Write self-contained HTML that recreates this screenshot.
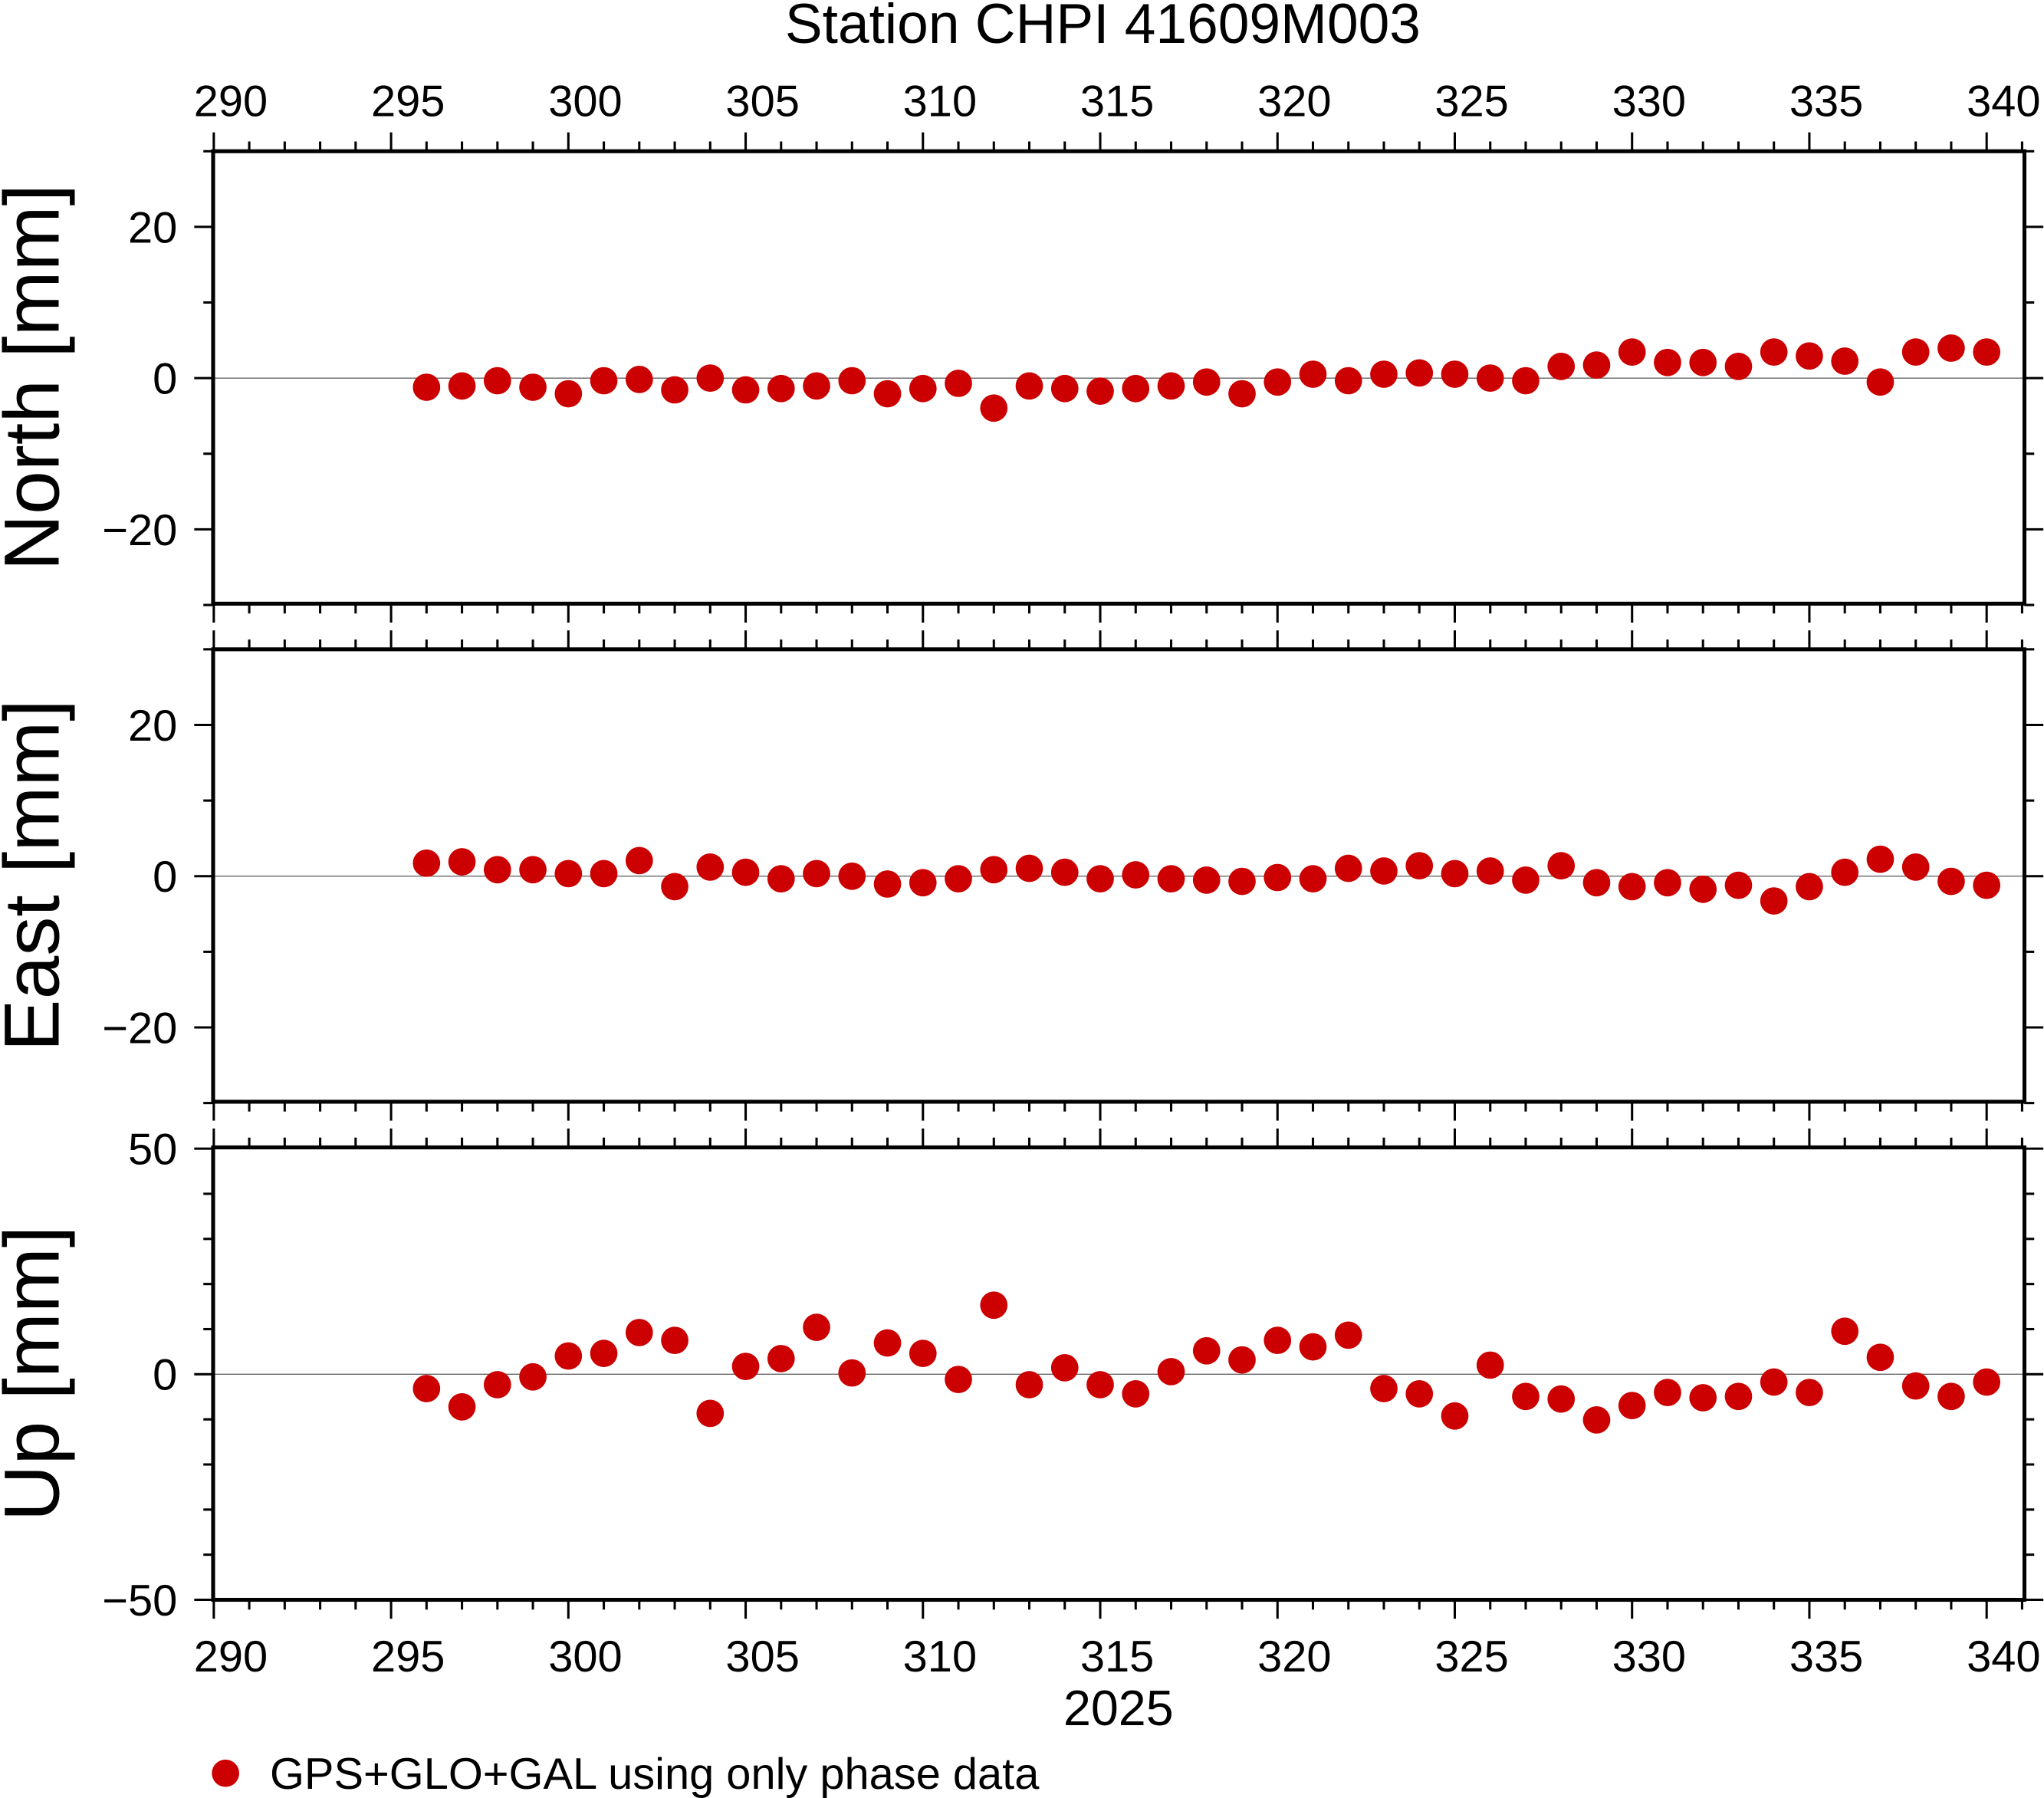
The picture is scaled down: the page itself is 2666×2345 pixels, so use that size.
<!DOCTYPE html>
<html><head><meta charset="utf-8"><style>html,body{margin:0;padding:0;background:#fff}svg{display:block}</style></head>
<body>
<svg id="s" width="2666" height="2345" viewBox="0 0 1568 1379" preserveAspectRatio="none" xmlns="http://www.w3.org/2000/svg" font-family="Liberation Sans, sans-serif">
<text x="846" y="33" font-size="43" text-anchor="middle">Station CHPI 41609M003</text>
<text x="858" y="1323" font-size="38" text-anchor="middle">2025</text>
<circle cx="173" cy="1360" r="10.5" fill="#cc0000"/>
<text x="207" y="1372" font-size="34">GPS+GLO+GAL using only phase data</text>
<g id="g"></g>
</svg>
<script>
var g=document.getElementById('g'),h='';
var X0=164,DX=27.2,L=163.5,R=1553;
function X(d){return X0+(d-290)*DX;}
var N=[297,296,292,297,302,292,291,299,290,299,298,296,292,302,298,294,313,296,298,300,298,296,293,302,293,287,292,287,286,287,290,292,281,280,270,278,278,281,270,273,277,293,270,267,270];
var E=[662,661,667,667,670,670,660,680,665,669,674,670,672,678,677,674,667,666,669,674,671,674,675,676,673,674,666,668,664,670,668,675,664,677,680,677,682,679,691,680,669,659,665,676,679];
var U=[1065,1079,1062,1056,1040,1038,1022,1028,1084,1048,1042,1018,1053,1030,1038,1058,1001,1062,1049,1062,1069,1052,1036,1043,1028,1033,1024,1065,1069,1086,1047,1071,1073,1089,1078,1068,1072,1071,1060,1068,1021,1041,1063,1071,1060];
var P=[{t:116,b:463,z:290,s:5.8,lab:[20,0,-20],min:[30,10,-10,-30],name:'North [mm]',d:N},
{t:498,b:845,z:672,s:5.8,lab:[20,0,-20],min:[30,10,-10,-30],name:'East [mm]',d:E},
{t:880,b:1227,z:1054,s:3.46,lab:[50,0,-50],min:[40,30,20,10,-10,-20,-30,-40],name:'Up [mm]',d:U}];
P.forEach(function(p,i){
 h+='<line x1="'+L+'" x2="'+R+'" y1="'+p.z+'" y2="'+p.z+'" stroke="#666" stroke-width="0.8"/>';
 p.d.forEach(function(y,k){h+='<circle cx="'+X(296+k)+'" cy="'+y+'" r="10.5" fill="#cc0000"/>';});
 for(var d=290;d<=341;d++){var len=(d%5==0)?14.5:7.5;var x=X(d);
  h+='<line x1="'+x+'" x2="'+x+'" y1="'+p.t+'" y2="'+(p.t-len)+'" stroke="#000" stroke-width="1.8"/>';
  h+='<line x1="'+x+'" x2="'+x+'" y1="'+p.b+'" y2="'+(p.b+len)+'" stroke="#000" stroke-width="1.8"/>';}
 function yt(v,len){var y=p.z-v*p.s;
  h+='<line x1="'+L+'" x2="'+(L-len)+'" y1="'+y+'" y2="'+y+'" stroke="#000" stroke-width="1.8"/>';
  h+='<line x1="'+R+'" x2="'+(R+len)+'" y1="'+y+'" y2="'+y+'" stroke="#000" stroke-width="1.8"/>';}
 p.lab.forEach(function(v){yt(v,14.5);var y=p.z-v*p.s;
  h+='<text x="136" y="'+(y+12)+'" font-size="34" text-anchor="end">'+(v<0?'\u2212'+(-v):v)+'</text>';});
 p.min.forEach(function(v){yt(v,7.5);});
 h+='<rect x="'+L+'" y="'+p.t+'" width="'+(R-L)+'" height="'+(p.b-p.t)+'" fill="none" stroke="#000" stroke-width="3"/>';
 h+='<text transform="translate(45,'+((p.t+p.b)/2)+') rotate(-90)" font-size="60" text-anchor="middle">'+p.name+'</text>';
});
for(var d=290;d<=340;d+=5){var x=X(d)+13;
 h+='<text x="'+x+'" y="89" font-size="34" text-anchor="middle">'+d+'</text>';
 h+='<text x="'+x+'" y="1282" font-size="34" text-anchor="middle">'+d+'</text>';}
g.innerHTML=h;
</script>
</body></html>
